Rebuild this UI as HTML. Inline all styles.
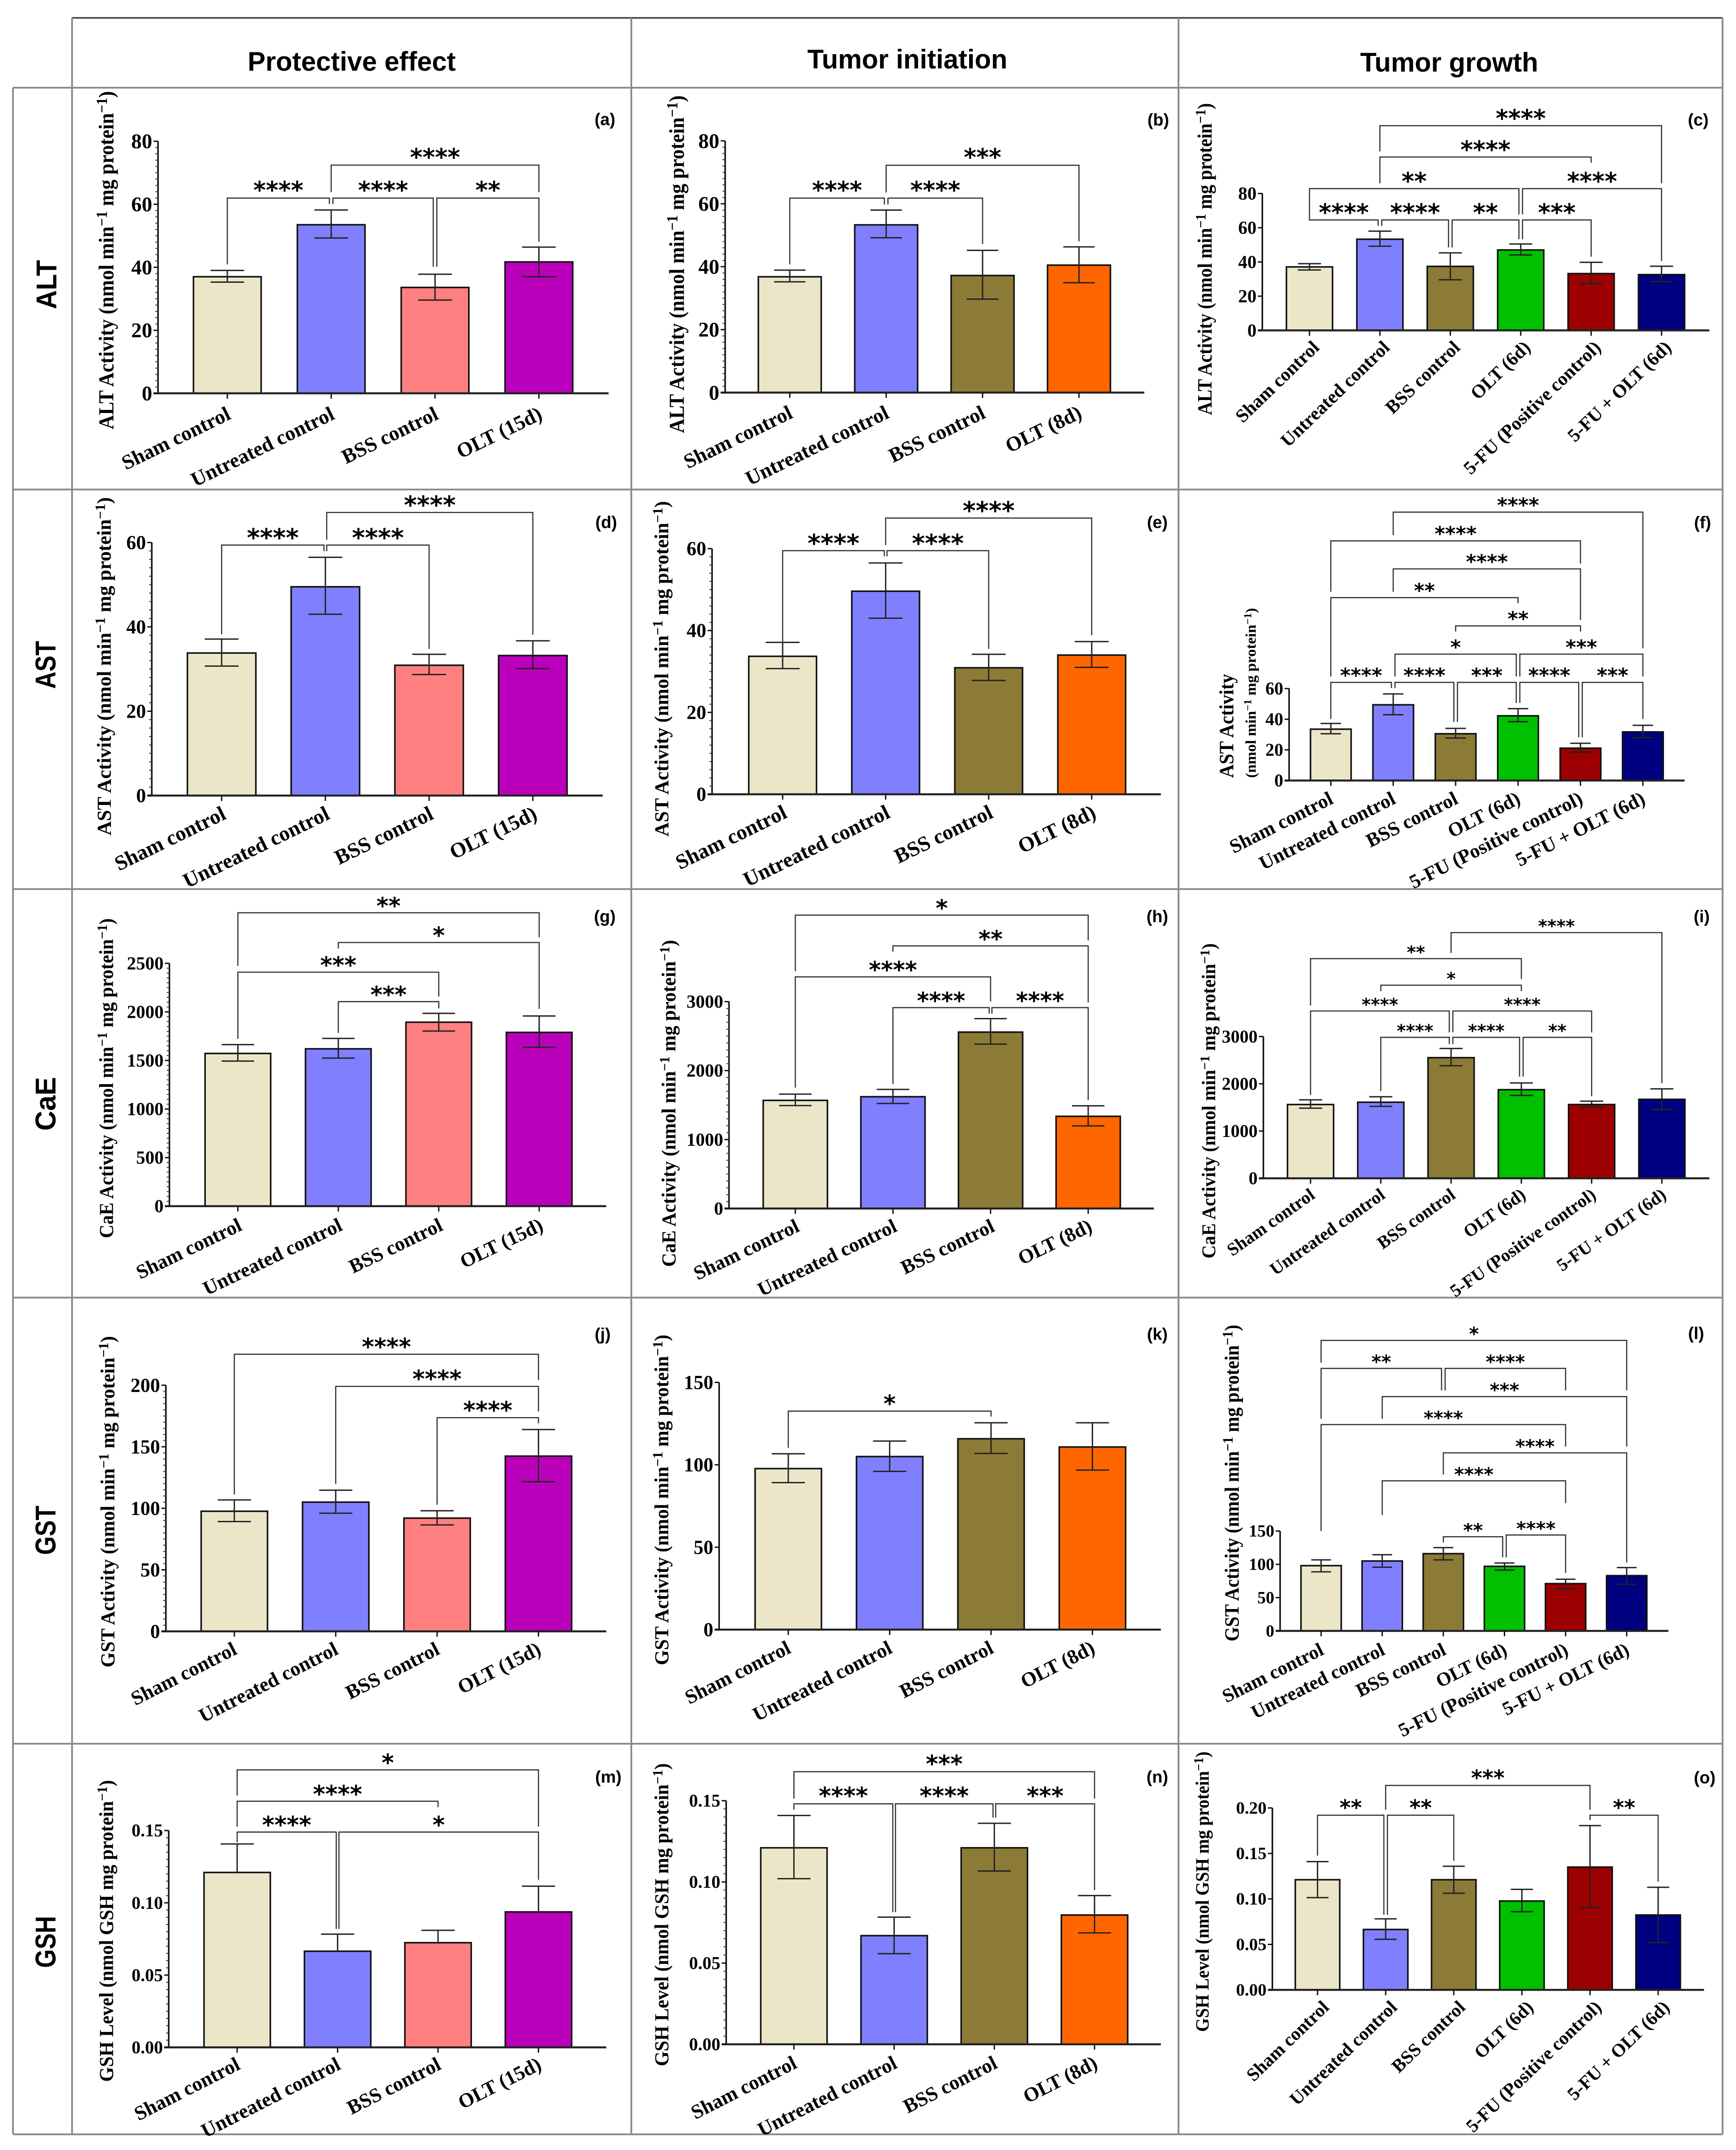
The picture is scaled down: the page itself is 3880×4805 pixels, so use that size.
<!DOCTYPE html>
<html lang="en">
<head>
<meta charset="utf-8">
<title>Biochemical activity bar chart grid</title>
<style>
html,body{margin:0;padding:0;background:#fff;}
svg{display:block;}
.hd{font-family:"Liberation Sans",sans-serif;font-weight:bold;fill:#000;}
.sf{font-family:"Liberation Serif",serif;font-weight:bold;fill:#000;}
.st{font-family:"DejaVu Sans",sans-serif;font-weight:bold;fill:#000;}
</style>
</head>
<body>
<svg id="figure" xmlns="http://www.w3.org/2000/svg" width="3880" height="4805" viewBox="0 0 3880 4805">
  <rect x="0" y="0" width="3880" height="4805" fill="#ffffff"/>
  <g stroke="#8c8c8c" stroke-width="4" fill="none">
    <line x1="161" y1="40" x2="3850" y2="40" stroke="#555555"/>
    <line x1="29" y1="196" x2="3850" y2="196"/>
    <line x1="29" y1="1094" x2="3850" y2="1094"/>
    <line x1="29" y1="1987" x2="3850" y2="1987"/>
    <line x1="29" y1="2900" x2="3850" y2="2900"/>
    <line x1="29" y1="3897" x2="3850" y2="3897"/>
    <line x1="29" y1="4770" x2="3850" y2="4770"/>
    <line x1="29" y1="196" x2="29" y2="4770"/>
    <line x1="161" y1="40" x2="161" y2="4770"/>
    <line x1="1411" y1="40" x2="1411" y2="4770"/>
    <line x1="2634" y1="40" x2="2634" y2="4770"/>
    <line x1="3850" y1="40" x2="3850" y2="4770"/>
  </g>
  <g>
    <text class="hd" x="786" y="158" font-size="60" text-anchor="middle" textLength="465" lengthAdjust="spacingAndGlyphs">Protective effect</text>
    <text class="hd" x="2028" y="153" font-size="60" text-anchor="middle" textLength="447" lengthAdjust="spacingAndGlyphs">Tumor initiation</text>
    <text class="hd" x="3239" y="160" font-size="60" text-anchor="middle" textLength="398" lengthAdjust="spacingAndGlyphs">Tumor growth</text>
  </g>
  <g>
    <text class="hd" transform="translate(126,636) rotate(-90)" font-size="64" text-anchor="middle" textLength="110" lengthAdjust="spacingAndGlyphs">ALT</text>
    <text class="hd" transform="translate(124,1486) rotate(-90)" font-size="64" text-anchor="middle" textLength="107" lengthAdjust="spacingAndGlyphs">AST</text>
    <text class="hd" transform="translate(124,2467) rotate(-90)" font-size="64" text-anchor="middle" textLength="120" lengthAdjust="spacingAndGlyphs">CaE</text>
    <text class="hd" transform="translate(124,3420) rotate(-90)" font-size="64" text-anchor="middle" textLength="110" lengthAdjust="spacingAndGlyphs">GST</text>
    <text class="hd" transform="translate(124,4340) rotate(-90)" font-size="64" text-anchor="middle" textLength="116" lengthAdjust="spacingAndGlyphs">GSH</text>
  </g>
  <g id="panels"></g>
</svg>
<script>
// ---- categories ----
const categories15d = ['Sham control','Untreated control','BSS control','OLT (15d)'];
const categories8d = ['Sham control','Untreated control','BSS control','OLT (8d)'];
const categories6d = ['Sham control','Untreated control','BSS control','OLT (6d)','5-FU (Positive control)','5-FU + OLT (6d)'];

// ---- tick labels ----
const ticksAlt = ['0','20','40','60','80'];
const ticksAst = ['0','20','40','60'];
const ticksCae2500 = ['0','500','1000','1500','2000','2500'];
const ticksCae3000 = ['0','1000','2000','3000'];
const ticksGst200 = ['0','50','100','150','200'];
const ticksGst150 = ['0','50','100','150'];
const ticksGsh15 = ['0.00','0.05','0.10','0.15'];
const ticksGsh20 = ['0.00','0.05','0.10','0.15','0.20'];

// ---- series values (mean, upper error, lower error) ----
const valuesA = [37, 53.5, 33.6, 41.7];
const highA = [39, 58.2, 37.8, 46.4];
const lowA = [35.3, 49.3, 29.6, 37];

const valuesB = [36.8, 53.3, 37.2, 40.5];
const highB = [38.9, 58, 45.2, 46.3];
const lowB = [35.2, 49.2, 29.7, 34.9];

const valuesC = [37.1, 53.3, 37.4, 47, 33.2, 32.6];
const highC = [39, 58, 45.3, 50.5, 39.8, 37.5];
const lowC = [35.3, 49.2, 29.6, 44.1, 27.3, 28.5];

const valuesD = [33.8, 49.5, 30.9, 33.2];
const highD = [37.1, 56.5, 33.5, 36.7];
const lowD = [30.7, 43, 28.7, 30.1];

const valuesE = [33.7, 49.6, 30.9, 34];
const highE = [37.1, 56.5, 34.2, 37.3];
const lowE = [30.7, 43, 27.8, 31];

const valuesF = [33.5, 49.4, 30.5, 42.2, 21.1, 31.7];
const highF = [37.2, 56.5, 34, 46.9, 24.3, 36];
const lowF = [30.5, 42.9, 27.7, 38.4, 18.6, 28];

const valuesG = [1572, 1620, 1894, 1789];
const highG = [1663, 1727, 1985, 1958];
const lowG = [1494, 1524, 1803, 1636];

const valuesH = [1568, 1621, 2558, 1337];
const highH = [1659, 1727, 2754, 1489];
const lowH = [1492, 1523, 2384, 1198];

const valuesI = [1561, 1610, 2553, 1875, 1561, 1671];
const highI = [1660, 1726, 2747, 2018, 1632, 1892];
const lowI = [1484, 1522, 2382, 1754, 1506, 1456];

const valuesJ = [97.6, 105, 92, 142.4];
const highJ = [106.8, 114.7, 98, 164];
const lowJ = [89.2, 96, 86.5, 121.6];

const valuesK = [97.7, 105, 115.8, 110.8];
const highK = [106.7, 114.4, 125.5, 125.5];
const lowK = [89.2, 96, 106.9, 96.8];

const valuesL = [98, 105, 116, 97, 71, 83];
const highL = [106.7, 114.4, 125.1, 102, 77.6, 95.1];
const lowL = [88.7, 95.6, 106.7, 91.3, 63, 69.9];

const valuesM = [0.121, 0.0665, 0.0724, 0.0937];
const highM = [0.1407, 0.0783, 0.081, 0.1115];
const lowM = [null, null, null, null];

const valuesN = [0.121, 0.0669, 0.121, 0.0796];
const highN = [0.1409, 0.0783, 0.1361, 0.0916];
const lowN = [0.102, 0.0558, 0.1067, 0.0686];

const valuesO = [0.1211, 0.0664, 0.1211, 0.0977, 0.135, 0.0823];
const highO = [0.141, 0.0781, 0.1359, 0.1105, 0.1806, 0.1128];
const lowO = [0.1014, 0.0556, 0.1063, 0.086, 0.0906, 0.0521];

// ---- bar palettes ----
const colors15d = ['#ece6c9','#8080ff','#ff8080','#bb00bb'];
const colors8d = ['#ece6c9','#8080ff','#8c7a37','#ff6600'];
const colors6d = ['#ece6c9','#8080ff','#8c7a37','#00c000','#9c0000','#000080'];

const altTitle = 'ALT Activity (nmol min|\u22121| mg protein|\u22121|)';
const astTitle = 'AST Activity (nmol min|\u22121| mg protein|\u22121|)';
const caeTitle = 'CaE Activity (nmol min|\u22121| mg protein|\u22121|)';
const gstTitle = 'GST Activity (nmol min|\u22121| mg protein|\u22121|)';
const gshTitle = 'GSH Level (nmol GSH mg protein|\u22121|)';

// Layout: measured on per-panel reference frames (frame = x, y, w, h mapped onto a 1568 box).
// Brackets: from, to, level, left end, right end, stars, left nudge, right nudge.
const panelLayouts = [
 {id:'a',frame:[0,0,1420,1100],axisX:390,base:1253,top:450,end:1502,c0:561,cN:1330,barW:167,capW:83,ymax:80,ticks:ticksAlt,minors:9,
  values:valuesA,high:highA,low:lowA,cats:categories15d,colors:colors15d,tickF:47,
  titles:[{text:altTitle,x:280,y0:1368,y1:290,F:48}],letter:[1493,380],labelF:46,labelA:26,labelDx:8,labelDy:37,starW:28,starGap:27,
  brackets:[[0,1,631,842,650,'****',0,-4],[1,2,631,650,850,'****',4,-4],[2,3,631,850,770,'**',4,0],[1,3,526,612,612,'****',0,0]]},
 {id:'b',frame:[1410,196,1224,900],axisX:270,base:1187,top:207,end:1470,c0:455,cN:1283,barW:180,capW:90,ymax:80,ticks:ticksAlt,minors:9,
  values:valuesB,high:highB,low:lowB,cats:categories8d,colors:colors8d,tickF:47,
  titles:[{text:altTitle,x:152,y0:1345,y1:30,F:48}],letter:[1510,125],labelF:46,labelA:26,labelDx:7,labelDy:36,starW:28,starGap:27,
  brackets:[[0,1,430,688,455,'****',0,-4],[1,2,430,455,608,'****',4,0],[1,3,302,408,598,'***',0,0]]},
 {id:'c',frame:[2634,196,1224,900],axisX:240,base:945,top:412,end:1520,c0:375,cN:1383,barW:132,capW:66,ymax:80,ticks:ticksAlt,minors:0,
  values:valuesC,high:highC,low:lowC,cats:categories6d,colors:colors6d,tickF:41,
  titles:[{text:altTitle,x:95,y0:1275,y1:60,F:46}],letter:[1488,125],labelF:42,labelA:44,labelDx:16,labelDy:29,starW:28,starGap:26,
  brackets:[[0,1,515,493,538,'****',0,-4],[1,2,515,538,622,'****',4,-4],[2,3,515,622,590,'**',4,-4],[3,4,515,590,658,'***',4,0],
            [0,3,393,493,493,'**',0,-4],[3,5,393,493,675,'****',4,0],[1,4,270,372,292,'****',0,0],[1,5,148,248,372,'****',0,0]]},
 {id:'d',frame:[161,1094,2473,893],axisX:113,base:1201,top:208,end:752,c0:212,cN:653,barW:97,capW:48,ymax:60,ticks:ticksAst,minors:9,
  values:valuesD,high:highD,low:lowD,cats:categories15d,colors:colors15d,tickF:44,
  titles:[{text:astTitle,x:55,y0:1358,y1:30,F:44}],letter:[757,128],labelF:47,labelA:26,labelDx:10,labelDy:31,starW:29,starGap:26,
  brackets:[[0,1,218,568,242,'****',0,-3],[1,2,218,242,625,'****',3,0],[1,3,90,197,570,'****',3,0]]},
 {id:'e',frame:[161,1094,2473,893],axisX:907,base:1196,top:232,end:1543,c0:1007,cN:1445,barW:96,capW:48,ymax:60,ticks:ticksAst,minors:9,
  values:valuesE,high:highE,low:lowE,cats:categories8d,colors:colors8d,tickF:44,
  titles:[{text:astTitle,x:845,y0:1362,y1:45,F:44}],letter:[1538,128],labelF:47,labelA:26,labelDx:10,labelDy:31,starW:29,starGap:26,
  brackets:[[0,1,240,598,262,'****',0,-3],[1,2,240,262,625,'****',3,0],[1,3,112,218,572,'****',0,0]]},
 {id:'f',frame:[2620,1090,1260,900],axisX:325,base:1140,top:782,end:1425,c0:441,cN:1309,barW:113,capW:57,ymax:60,ticks:ticksAst,minors:0,
  values:valuesF,high:highF,low:lowF,cats:categories6d,colors:colors6d,tickF:40,
  titles:[{text:'AST Activity',x:170,y0:1130,y1:725,F:45},{text:'(nmol min|\u22121| mg protein|\u22121|)',x:232,y0:1130,y1:468,F:33}],
  letter:[1475,135],labelF:44,labelA:26.8,labelDx:6,labelDy:32,starW:23.5,starGap:23.5,
  brackets:[[0,1,758,900,780,'****',0,-4],[1,2,758,780,912,'****',4,-4],[2,3,758,912,838,'***',4,-4],[3,4,758,838,972,'****',4,-4],[4,5,758,972,900,'***',4,0],
            [1,3,648,735,735,'*',4,-4],[3,5,648,735,735,'***',4,0],[2,4,538,560,560,'**',0,0],[0,3,428,735,450,'**',0,0],
            [1,4,316,405,515,'****',0,0],[0,4,207,405,295,'****',0,0],[1,5,95,185,625,'****',0,0]]},
 {id:'g',frame:[161,1987,2473,913],axisX:138,base:1217,top:285,end:757,c0:235,cN:662,barW:93,capW:46,ymax:2500,ticks:ticksCae2500,minors:9,
  values:valuesG,high:highG,low:lowG,cats:categories15d,colors:colors15d,tickF:41,
  titles:[{text:caeTitle,x:58,y0:1340,y1:112,F:44}],letter:[755,105],labelF:44.6,labelA:25.8,labelDx:10,labelDy:34,starW:27,starGap:24.5,
  brackets:[[1,2,432,552,458,'***',0,0],[0,2,319,575,412,'***',0,0],[1,3,205,228,460,'*',0,0],[0,3,91,295,185,'**',0,0]]},
 {id:'h',frame:[161,1987,2473,913],axisX:931,base:1226,top:432,end:1533,c0:1025,cN:1440,barW:91,capW:46,ymax:3000,ticks:ticksCae3000,minors:9,
  values:valuesH,high:highH,low:lowH,cats:categories8d,colors:colors8d,tickF:41,
  titles:[{text:caeTitle,x:855,y0:1450,y1:195,F:44}],letter:[1538,105],labelF:44.6,labelA:25.8,labelDx:10,labelDy:31,starW:27,starGap:24.5,
  brackets:[[1,2,455,748,478,'****',0,-3],[2,3,455,478,810,'****',3,0],[0,2,337,762,432,'****',0,0],[1,3,218,240,435,'**',0,0],[0,3,100,315,197,'*',0,0]]},
 {id:'i',frame:[2634,1987,1224,913],axisX:243,base:1110,top:566,end:1520,c0:378,cN:1384,barW:132,capW:66,ymax:3000,ticks:ticksCae3000,minors:0,
  values:valuesI,high:highI,low:lowI,cats:categories6d,colors:colors6d,tickF:40,
  titles:[{text:caeTitle,x:105,y0:1418,y1:208,F:43}],letter:[1498,105],labelF:40,labelA:35.3,labelDx:8,labelDy:29,starW:20.5,starGap:21,
  brackets:[[1,2,569,775,595,'****',0,-4],[2,3,569,595,720,'****',4,-4],[3,4,569,720,795,'**',4,0],[0,2,468,790,550,'****',0,-4],[2,4,468,550,550,'****',4,0],
            [1,3,369,392,392,'*',0,0],[0,3,267,447,345,'**',0,0],[2,5,167,245,745,'****',0,0]]},
 {id:'j',frame:[161,2900,2473,997],axisX:133,base:1173,top:308,end:757,c0:230,cN:661,barW:94,capW:47,ymax:200,ticks:ticksGst200,minors:9,
  values:valuesJ,high:highJ,low:lowJ,cats:categories15d,colors:colors15d,tickF:44,
  titles:[{text:gstTitle,x:60,y0:1300,y1:135,F:44}],letter:[752,128],labelF:45,labelA:27,labelDx:6,labelDy:31,starW:27.5,starGap:26,
  brackets:[[2,3,422,728,442,'****',0,0],[1,3,312,655,400,'****',0,0],[0,3,199,692,290,'****',0,0]]},
 {id:'k',frame:[161,2900,2473,997],axisX:917,base:1167,top:298,end:1543,c0:1015,cN:1446,barW:94,capW:47,ymax:150,ticks:ticksGst150,minors:0,
  values:valuesK,high:highK,low:lowK,cats:categories8d,colors:colors8d,tickF:44,
  titles:[{text:gstTitle,x:845,y0:1292,y1:130,F:44}],letter:[1538,128],labelF:45,labelA:27,labelDx:6,labelDy:32,starW:27.5,starGap:26,
  brackets:[[0,2,399,528,418,'*',0,0]]},
 {id:'l',frame:[2620,2900,1260,1000],axisX:300,base:1168,top:818,end:1380,c0:414,cN:1264,barW:112,capW:55,ymax:150,ticks:ticksGst150,minors:0,
  values:valuesL,high:highL,low:lowL,cats:categories6d,colors:colors6d,tickF:38,
  titles:[{text:gstTitle,x:185,y0:1205,y1:95,F:46}],letter:[1457,125],labelF:43,labelA:26.5,labelDx:7,labelDy:34,starW:22,starGap:22,
  brackets:[[2,3,838,858,910,'**',0,-4],[3,4,832,910,965,'****',4,0],[1,4,642,762,720,'****',0,0],[2,5,544,620,928,'****',0,0],[0,4,445,818,522,'****',0,0],
            [1,5,347,425,522,'***',0,0],[0,2,248,425,325,'**',0,-4],[2,4,248,325,325,'****',4,0],[0,5,150,228,325,'*',0,0]]},
 {id:'m',frame:[161,3897,2473,908],axisX:137,base:1172,top:335,end:757,c0:234,cN:661,barW:94,capW:47,ymax:0.15,ticks:ticksGsh15,minors:9,
  values:valuesM,high:highM,low:lowM,cats:categories15d,colors:colors15d,tickF:40,
  titles:[{text:gshTitle,x:58,y0:1305,y1:140,F:44}],letter:[760,128],labelF:45,labelA:27,labelDx:7,labelDy:29,starW:27.5,starGap:25.5,
  brackets:[[0,1,341,380,715,'****',0,-3],[1,3,341,715,525,'*',3,0],[0,2,222,320,245,'****',0,0],[0,3,101,200,320,'*',0,0]]},
 {id:'n',frame:[161,3897,2473,908],axisX:927,base:1160,top:220,end:1543,c0:1023,cN:1449,barW:94,capW:47,ymax:0.15,ticks:ticksGsh15,minors:9,
  values:valuesN,high:highN,low:lowN,cats:categories8d,colors:colors8d,tickF:40,
  titles:[{text:gshTitle,x:845,y0:1245,y1:75,F:44}],letter:[1538,128],labelF:45,labelA:27,labelDx:7,labelDy:33,starW:27.5,starGap:27,
  brackets:[[0,1,232,255,650,'****',0,-3],[1,2,232,650,285,'****',3,-3],[2,3,232,285,565,'***',3,0],[0,3,108,212,212,'***',0,0]]},
 {id:'o',frame:[2634,3897,1246,908],axisX:264,base:950,top:248,end:1478,c0:391,cN:1349,barW:125,capW:62,ymax:0.2,ticks:ticksGsh20,minors:0,
  values:valuesO,high:highO,low:lowO,cats:categories6d,colors:colors6d,tickF:39,
  titles:[{text:gshTitle,x:85,y0:1112,y1:30,F:42}],letter:[1480,130],labelF:41.4,labelA:44,labelDx:20,labelDy:30,starW:25,starGap:25,
  brackets:[[0,1,276,432,660,'**',0,-4],[1,2,276,660,452,'**',4,0],[1,4,161,255,255,'***',0,0],[4,5,276,295,532,'**',0,0]]}
];

const SVGNS = 'http://www.w3.org/2000/svg';
const labelShiftX = -11;
const labelShiftY = -8;
function el(tag, attrs, parent){
  const n = document.createElementNS(SVGNS, tag);
  for(const k in attrs){ n.setAttribute(k, attrs[k]); }
  parent.appendChild(n);
  return n;
}

function fillTitle(node, text){
  const parts = text.split('|');
  parts.forEach(function(part, idx){
    const sup = idx % 2 === 1;
    const span = el('tspan', {}, node);
    if(sup){ span.setAttribute('font-size','72%'); span.setAttribute('dy','-0.42em'); }
    else if(idx > 0){ span.setAttribute('dy','0.30em'); }
    span.textContent = part;
  });
}

function drawPanel(p, root){
  const fx = p.frame[2] / 1568, fy = p.frame[3] / 1568;
  const px = function(z){ return p.frame[0] + z * fx; };
  const py = function(z){ return p.frame[1] + z * fy; };
  const base = py(p.base), top = py(p.top), axisX = px(p.axisX), axisEnd = px(p.end);
  const c0 = px(p.c0), cN = px(p.cN), n = p.values.length;
  const barW = p.barW * fx, capW = p.capW * fx;
  // axis functions
  const yScale = function(v){ return base - (v / p.ymax) * (base - top); };
  const xScale = function(i){ return c0 + i * (cN - c0) / (n - 1); };

  const g = el('g', {}, root);
  
  

  // bars
  p.values.forEach(function(v, i){
    const y = yScale(v);
    const bar = el('rect', {x:xScale(i)-barW/2, y:y, width:barW, height:base-y, fill:p.colors[i], stroke:'#111', 'stroke-width':3.5}, g);
    
    
  });
  // error bars
  p.values.forEach(function(v, i){
    const x = xScale(i), yh = yScale(p.high[i]);
    const yl = p.low[i] === null ? yScale(v) : yScale(p.low[i]);
    let d = 'M' + (x-capW/2) + ' ' + yh + 'H' + (x+capW/2) + 'M' + x + ' ' + yh + 'V' + yl;
    if(p.low[i] !== null){ d += 'M' + (x-capW/2) + ' ' + yl + 'H' + (x+capW/2); }
    const err = el('path', {d:d, fill:'none', stroke:'#222', 'stroke-width':3}, g);
    
    
  });
  // axes
  const yAxis = el('line', {x1:axisX, y1:top, x2:axisX, y2:base+2, stroke:'#111', 'stroke-width':3.5}, g);
  
  
  const xAxis = el('line', {x1:axisX-10, y1:base, x2:axisEnd, y2:base, stroke:'#222', 'stroke-width':4.5}, g);
  
  

  // y ticks and labels
  p.ticks.forEach(function(lab, i){
    const y = yScale(parseFloat(lab));
    const tick = el('line', {x1:axisX-10, y1:y, x2:axisX, y2:y, stroke:'#111', 'stroke-width':3}, g);
    
    
    const t = el('text', {x:axisX-13, y:y+p.tickF*0.33, 'text-anchor':'end', 'font-size':p.tickF, 'class':'sf'}, g);
    
    
    t.textContent = lab;
    if(p.minors && i < p.ticks.length - 1){
      const next = yScale(parseFloat(p.ticks[i+1]));
      for(let m = 1; m <= p.minors; m++){
        const ym = y + (next - y) * m / (p.minors + 1);
        const minor = el('line', {x1:axisX-6, y1:ym, x2:axisX, y2:ym, stroke:'#333', 'stroke-width':2}, g);
        
        
      }
    }
  });

  // x ticks and rotated labels
  const a = p.labelA * Math.PI / 180;
  p.cats.forEach(function(lab, i){
    const x = xScale(i);
    const tick = el('line', {x1:x, y1:base, x2:x, y2:base+12, stroke:'#111', 'stroke-width':3}, g);
    
    
    const lx = x + p.labelDx + labelShiftX + Math.sin(a) * 0.66 * p.labelF;
    const ly = base + p.labelDy + labelShiftY + Math.cos(a) * 0.66 * p.labelF;
    const t = el('text', {'text-anchor':'end', 'font-size':p.labelF, 'class':'sf', transform:'translate(' + lx + ',' + ly + ') rotate(' + (-p.labelA) + ')'}, g);
    
    
    t.textContent = lab;
  });

  // y axis titles, stretched to the measured length
  p.titles.forEach(function(tt){
    const t = el('text', {'text-anchor':'middle', 'font-size':tt.F, 'class':'sf'}, g);
    
    
    fillTitle(t, tt.text);
    const target = (tt.y0 - tt.y1) * fy;
    const len = t.getComputedTextLength() || target;
    const mid = py((tt.y0 + tt.y1) / 2);
    t.setAttribute('transform', 'translate(' + px(tt.x) + ',' + mid + ') rotate(-90) scale(' + (target / len) + ',1)');
  });

  // significance brackets
  p.brackets.forEach(function(b){
    const xl = xScale(b[0]) + (b[6] || 0), xr = xScale(b[1]) + (b[7] || 0);
    const lev = py(b[2]);
    const d = 'M' + xl + ' ' + py(b[3]) + 'V' + lev + 'H' + xr + 'V' + py(b[4]);
    const br = el('path', {d:d, fill:'none', stroke:'#333', 'stroke-width':2.6}, g);
    
    
    const F = p.starW / 0.523;
    const s = el('text', {x:(xl + xr) / 2, y:lev - p.starGap + 0.52 * F, 'text-anchor':'middle', 'font-size':F, 'class':'st'}, g);
    
    
    s.textContent = b[5];
  });

  // panel letter
  const letter = el('text', {x:px(p.letter[0]), y:py(p.letter[1]) + 13, 'text-anchor':'middle', 'font-size':38, 'class':'hd'}, g);
  
  
  letter.textContent = '(' + p.id + ')';
}

const panelsRoot = document.getElementById('panels');
panelLayouts.forEach(function(p){ drawPanel(p, panelsRoot); });
</script>
</body>
</html>
